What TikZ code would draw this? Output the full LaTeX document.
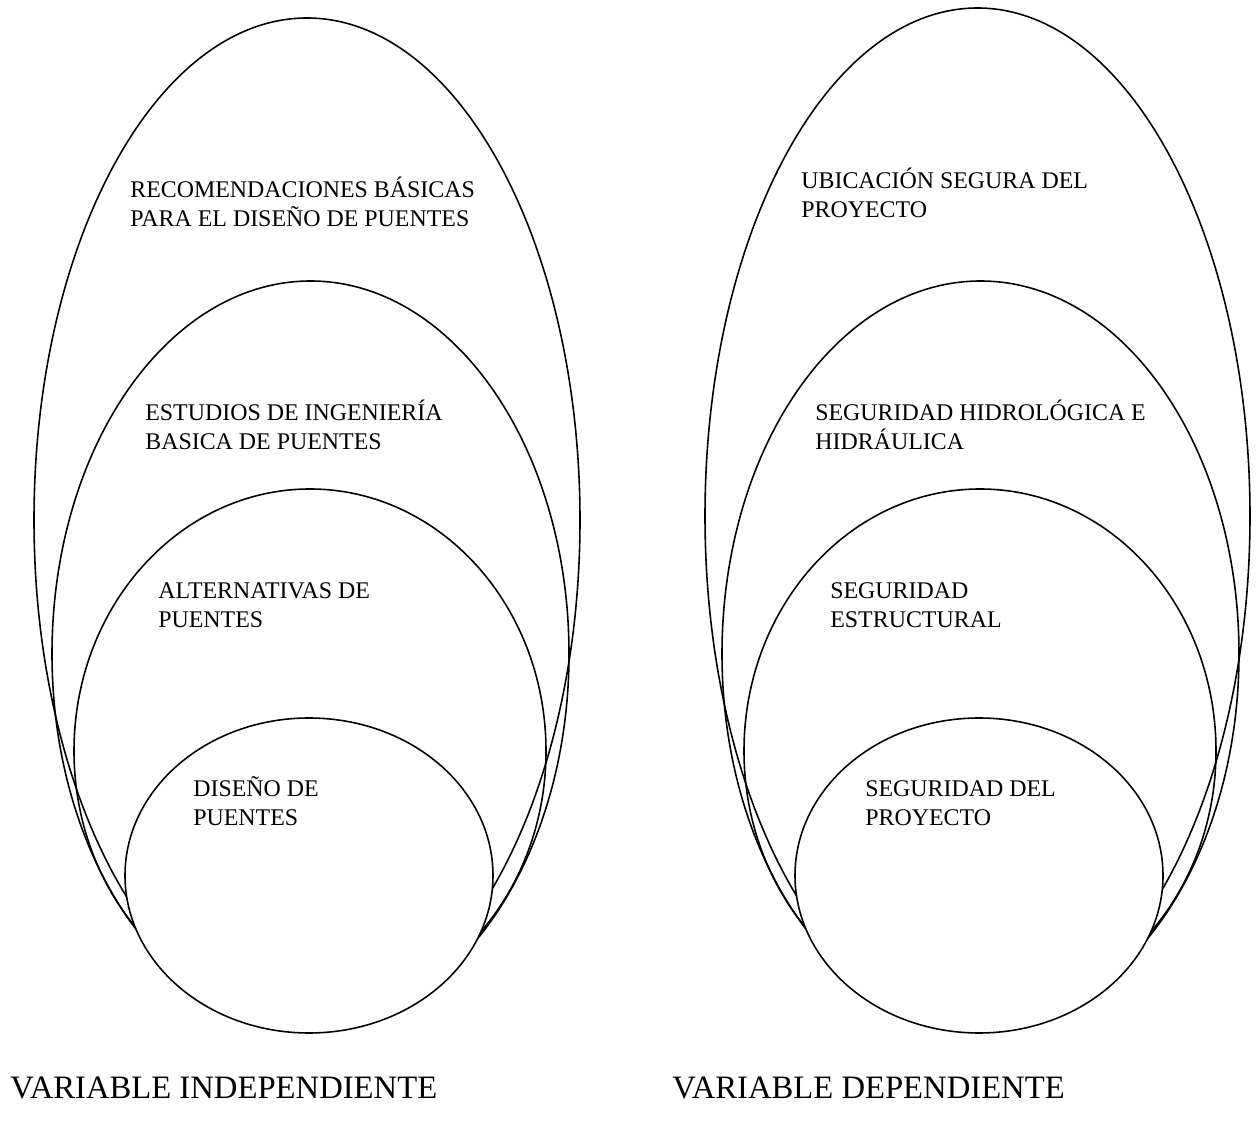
\documentclass[tikz,border=0pt]{standalone}
\usepackage{fontspec}
\setmainfont{Liberation Serif}
\tikzset{
  ov/.style={draw=black,line width=0.9pt},
  lbl/.style={anchor=base west,align=left,inner sep=0pt,font=\fontsize{13.6}{16.8}\selectfont},
  var/.style={anchor=base west,inner sep=0pt,font=\fontsize{18.6}{22}\selectfont}
}
\begin{document}
\begin{tikzpicture}[x=0.02cm,y=-0.02cm]
\useasboundingbox (0,0) rectangle (1259,1128);
% outer ovals, left group then right group
\foreach \cx/\cy/\ra/\rb in {307/520/273/502,310.5/654/258.5/373,310/751/236/262,977.5/516/272.5/508,980.5/654/258.5/373,980/751/236/262}
  \draw[ov] (\cx,\cy) ellipse[x radius=\ra,y radius=\rb];
% inner circles, filled so they hide the lower ends
\foreach \cx in {309,979}
  \draw[ov,fill=white] (\cx,875.5) ellipse[x radius=184,y radius=157.5];
% texts (anchored on the last line)
\node[lbl] (rec) at (130,227) {RECOMENDACIONES BÁSICAS\\PARA EL DISEÑO DE PUENTES};
\node[lbl] (est) at (145,450) {ESTUDIOS DE INGENIERÍA\\BASICA DE PUENTES};
\node[lbl] (alt) at (158,628) {ALTERNATIVAS DE\\PUENTES};
\node[lbl] (dis) at (193,826) {DISEÑO DE\\PUENTES};
\node[lbl] (ubi) at (801,218) {UBICACIÓN SEGURA DEL\\PROYECTO};
\node[lbl] (hid) at (815,450) {SEGURIDAD HIDROLÓGICA E\\HIDRÁULICA};
\node[lbl] (estr) at (830,628) {SEGURIDAD\\ESTRUCTURAL};
\node[lbl] (seg) at (865,826) {SEGURIDAD DEL\\PROYECTO};
\node[var] (vi) at (10,1098) {VARIABLE INDEPENDIENTE};
\node[var] (vd) at (672,1098) {VARIABLE DEPENDIENTE};
\end{tikzpicture}
\end{document}
